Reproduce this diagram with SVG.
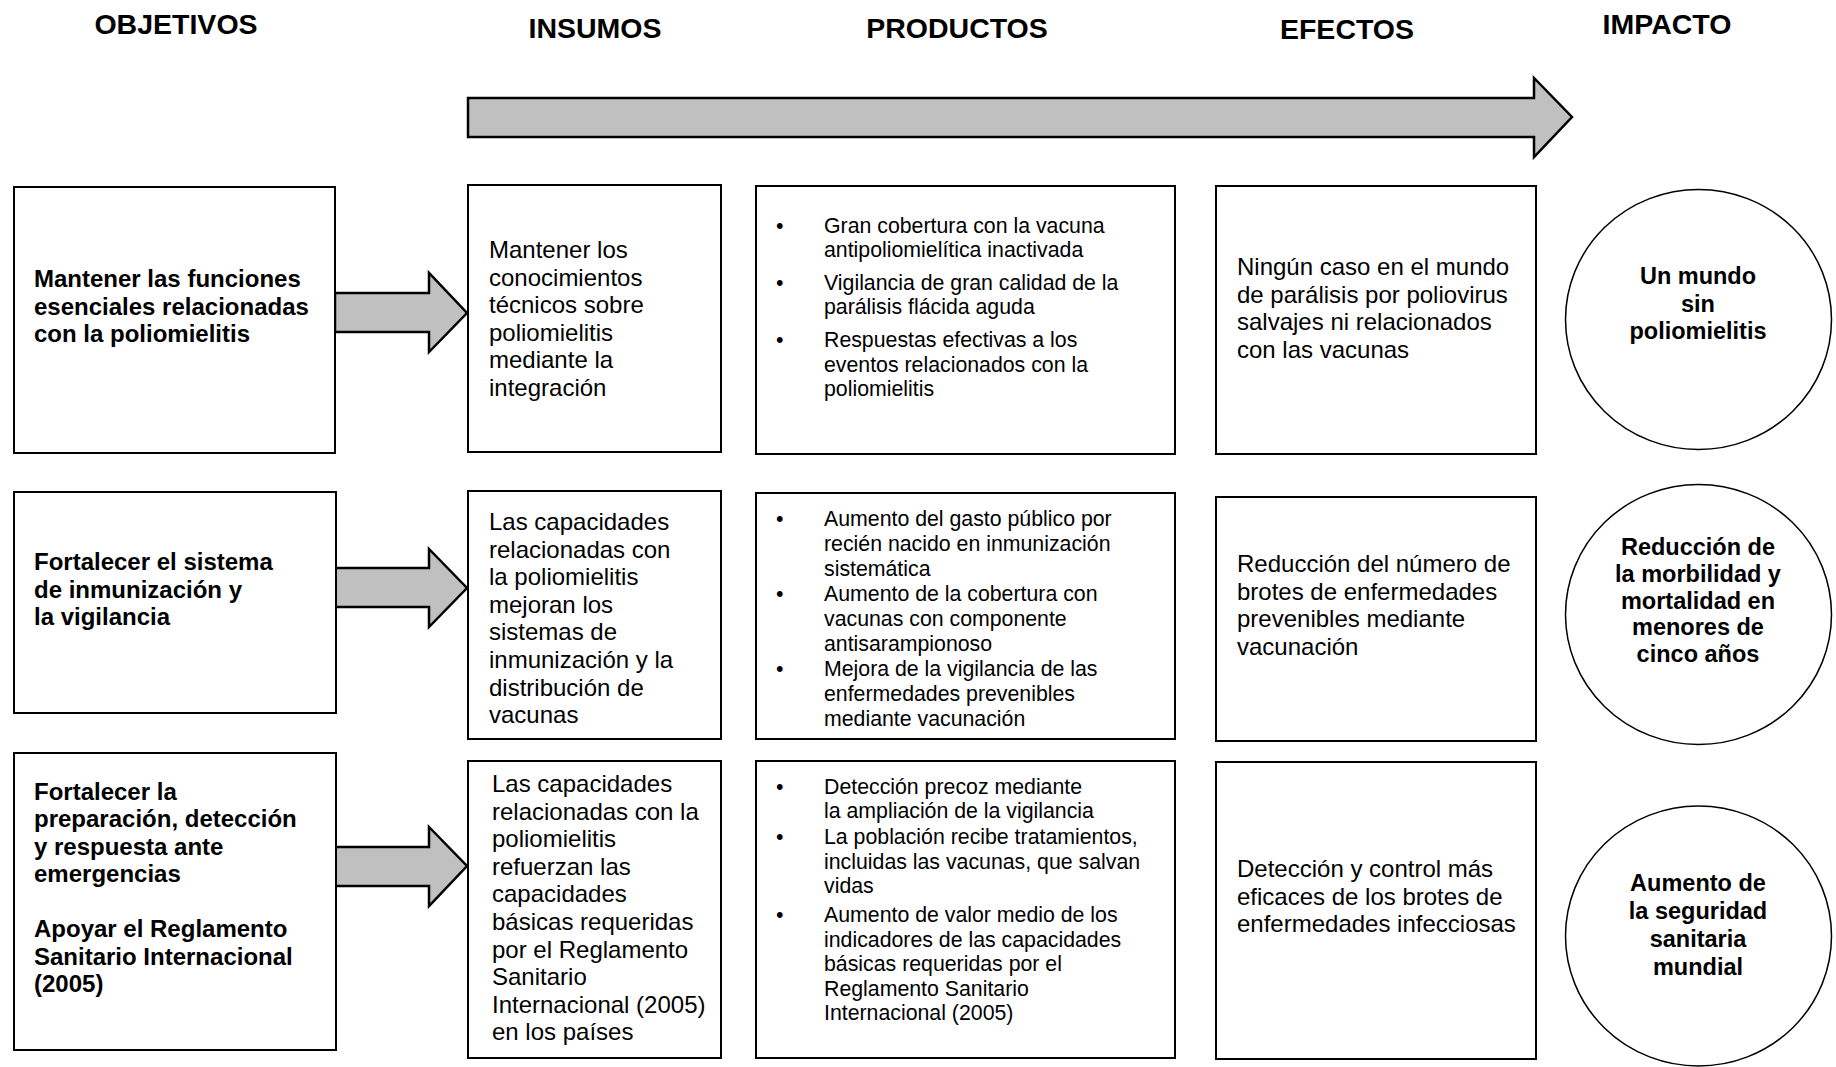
<svg xmlns="http://www.w3.org/2000/svg" width="1836" height="1067" viewBox="0 0 1836 1067">
<style>
text{font-family:"Liberation Sans",Arial,sans-serif;fill:#000}
.h{font-size:28.5px;font-weight:bold;text-anchor:middle}
.b{font-size:24px;font-weight:bold}
.r{font-size:24px}
.p{font-size:21.3px}
.c{font-size:23.5px;font-weight:bold;text-anchor:middle}
.box{fill:#fff;stroke:#000;stroke-width:2}
.arr{fill:#c0c0c0;stroke:#000;stroke-width:2.5;stroke-linejoin:miter}
</style>
<rect width="1836" height="1067" fill="#fff"/>
<g id="headers">
<text class="h" x="176" y="34">OBJETIVOS</text>
<text class="h" x="595" y="37.5">INSUMOS</text>
<text class="h" x="957" y="38">PRODUCTOS</text>
<text class="h" x="1347" y="39">EFECTOS</text>
<text class="h" x="1667" y="34">IMPACTO</text>
</g>
<g id="connectors">
<path class="arr" d="M468,98 H1534 V78 L1572,117 L1534,157 V137 H468 Z"/>
<path class="arr" d="M335,293 H429 V273 L467,313 L429,352 V332 H335 Z"/>
<path class="arr" d="M335,568 H429 V549 L467,588 L429,627 V607 H335 Z"/>
<path class="arr" d="M335,847 H429 V827 L467,866 L429,906 V886 H335 Z"/>
</g>
<g id="obj1"><rect class="box" x="14" y="187" width="321" height="266"/>
<text class="b"><tspan x="34" y="287">Mantener las funciones</tspan><tspan x="34" y="314.6">esenciales relacionadas</tspan><tspan x="34" y="342.2">con la poliomielitis</tspan></text></g>
<g id="obj2"><rect class="box" x="14" y="492" width="322" height="221"/>
<text class="b"><tspan x="34" y="570">Fortalecer el sistema</tspan><tspan x="34" y="597.6">de inmunización y</tspan><tspan x="34" y="625.2">la vigilancia</tspan></text></g>
<g id="obj3"><rect class="box" x="14" y="753" width="322" height="297"/>
<text class="b"><tspan x="34" y="799.5">Fortalecer la</tspan><tspan x="34" y="827">preparación, detección</tspan><tspan x="34" y="854.5">y respuesta ante</tspan><tspan x="34" y="882">emergencias</tspan><tspan x="34" y="937">Apoyar el Reglamento</tspan><tspan x="34" y="964.5">Sanitario Internacional</tspan><tspan x="34" y="992">(2005)</tspan></text></g>
<g id="ins1"><rect class="box" x="468" y="185" width="253" height="267"/>
<text class="r"><tspan x="489" y="258">Mantener los</tspan><tspan x="489" y="285.6">conocimientos</tspan><tspan x="489" y="313.2">técnicos sobre</tspan><tspan x="489" y="340.8">poliomielitis</tspan><tspan x="489" y="368.4">mediante la</tspan><tspan x="489" y="396">integración</tspan></text></g>
<g id="ins2"><rect class="box" x="468" y="491" width="253" height="248"/>
<text class="r"><tspan x="489" y="530">Las capacidades</tspan><tspan x="489" y="557.6">relacionadas con</tspan><tspan x="489" y="585.2">la poliomielitis</tspan><tspan x="489" y="612.8">mejoran los</tspan><tspan x="489" y="640.4">sistemas de</tspan><tspan x="489" y="668">inmunización y la</tspan><tspan x="489" y="695.6">distribución de</tspan><tspan x="489" y="723.2">vacunas</tspan></text></g>
<g id="ins3"><rect class="box" x="468" y="761" width="253" height="297"/>
<text class="r"><tspan x="492" y="792">Las capacidades</tspan><tspan x="492" y="819.6">relacionadas con la</tspan><tspan x="492" y="847.2">poliomielitis</tspan><tspan x="492" y="874.8">refuerzan las</tspan><tspan x="492" y="902.4">capacidades</tspan><tspan x="492" y="930">básicas requeridas</tspan><tspan x="492" y="957.6">por el Reglamento</tspan><tspan x="492" y="985.2">Sanitario</tspan><tspan x="492" y="1012.8">Internacional (2005)</tspan><tspan x="492" y="1040.4">en los países</tspan></text></g>
<g id="prod1"><rect class="box" x="756" y="186" width="419" height="268"/>
<text class="p"><tspan x="776" y="233">•</tspan><tspan x="824" y="233">Gran cobertura con la vacuna</tspan><tspan x="824" y="257">antipoliomielítica inactivada</tspan><tspan x="776" y="290">•</tspan><tspan x="824" y="290">Vigilancia de gran calidad de la</tspan><tspan x="824" y="314">parálisis flácida aguda</tspan><tspan x="776" y="347">•</tspan><tspan x="824" y="347">Respuestas efectivas a los</tspan><tspan x="824" y="371.5">eventos relacionados con la</tspan><tspan x="824" y="396">poliomielitis</tspan></text></g>
<g id="prod2"><rect class="box" x="756" y="493" width="419" height="246"/>
<text class="p"><tspan x="776" y="526">•</tspan><tspan x="824" y="526">Aumento del gasto público por</tspan><tspan x="824" y="551">recién nacido en inmunización</tspan><tspan x="824" y="576">sistemática</tspan><tspan x="776" y="601">•</tspan><tspan x="824" y="601">Aumento de la cobertura con</tspan><tspan x="824" y="626">vacunas con componente</tspan><tspan x="824" y="651">antisarampionoso</tspan><tspan x="776" y="676">•</tspan><tspan x="824" y="676">Mejora de la vigilancia de las</tspan><tspan x="824" y="701">enfermedades prevenibles</tspan><tspan x="824" y="726">mediante vacunación</tspan></text></g>
<g id="prod3"><rect class="box" x="756" y="761" width="419" height="297"/>
<text class="p"><tspan x="776" y="794">•</tspan><tspan x="824" y="794">Detección precoz mediante</tspan><tspan x="824" y="818">la ampliación de la vigilancia</tspan><tspan x="776" y="844">•</tspan><tspan x="824" y="844">La población recibe tratamientos,</tspan><tspan x="824" y="868.5">incluidas las vacunas, que salvan</tspan><tspan x="824" y="893">vidas</tspan><tspan x="776" y="922">•</tspan><tspan x="824" y="922">Aumento de valor medio de los</tspan><tspan x="824" y="946.5">indicadores de las capacidades</tspan><tspan x="824" y="971">básicas requeridas por el</tspan><tspan x="824" y="995.5">Reglamento Sanitario</tspan><tspan x="824" y="1020">Internacional (2005)</tspan></text></g>
<g id="efe1"><rect class="box" x="1216" y="186" width="320" height="268"/>
<text class="r"><tspan x="1237" y="275">Ningún caso en el mundo</tspan><tspan x="1237" y="302.6">de parálisis por poliovirus</tspan><tspan x="1237" y="330.2">salvajes ni relacionados</tspan><tspan x="1237" y="357.8">con las vacunas</tspan></text></g>
<g id="efe2"><rect class="box" x="1216" y="497" width="320" height="244"/>
<text class="r"><tspan x="1237" y="572">Reducción del número de</tspan><tspan x="1237" y="599.6">brotes de enfermedades</tspan><tspan x="1237" y="627.2">prevenibles mediante</tspan><tspan x="1237" y="654.8">vacunación</tspan></text></g>
<g id="efe3"><rect class="box" x="1216" y="762" width="320" height="297"/>
<text class="r"><tspan x="1237" y="877">Detección y control más</tspan><tspan x="1237" y="904.6">eficaces de los brotes de</tspan><tspan x="1237" y="932.2">enfermedades infecciosas</tspan></text></g>
<g id="imp1"><ellipse cx="1698.5" cy="319.5" rx="133" ry="130" fill="#fff" stroke="#000" stroke-width="1.5"/>
<text class="c"><tspan x="1698" y="284">Un mundo</tspan><tspan x="1698" y="311.5">sin</tspan><tspan x="1698" y="339">poliomielitis</tspan></text></g>
<g id="imp2"><ellipse cx="1698.5" cy="614.5" rx="133" ry="130" fill="#fff" stroke="#000" stroke-width="1.5"/>
<text class="c"><tspan x="1698" y="555">Reducción de</tspan><tspan x="1698" y="581.8">la morbilidad y</tspan><tspan x="1698" y="608.6">mortalidad en</tspan><tspan x="1698" y="635.4">menores de</tspan><tspan x="1698" y="662.2">cinco años</tspan></text></g>
<g id="imp3"><ellipse cx="1698.5" cy="936" rx="133" ry="130" fill="#fff" stroke="#000" stroke-width="1.5"/>
<text class="c"><tspan x="1698" y="891">Aumento de</tspan><tspan x="1698" y="919">la seguridad</tspan><tspan x="1698" y="947">sanitaria</tspan><tspan x="1698" y="975">mundial</tspan></text></g>
</svg>
